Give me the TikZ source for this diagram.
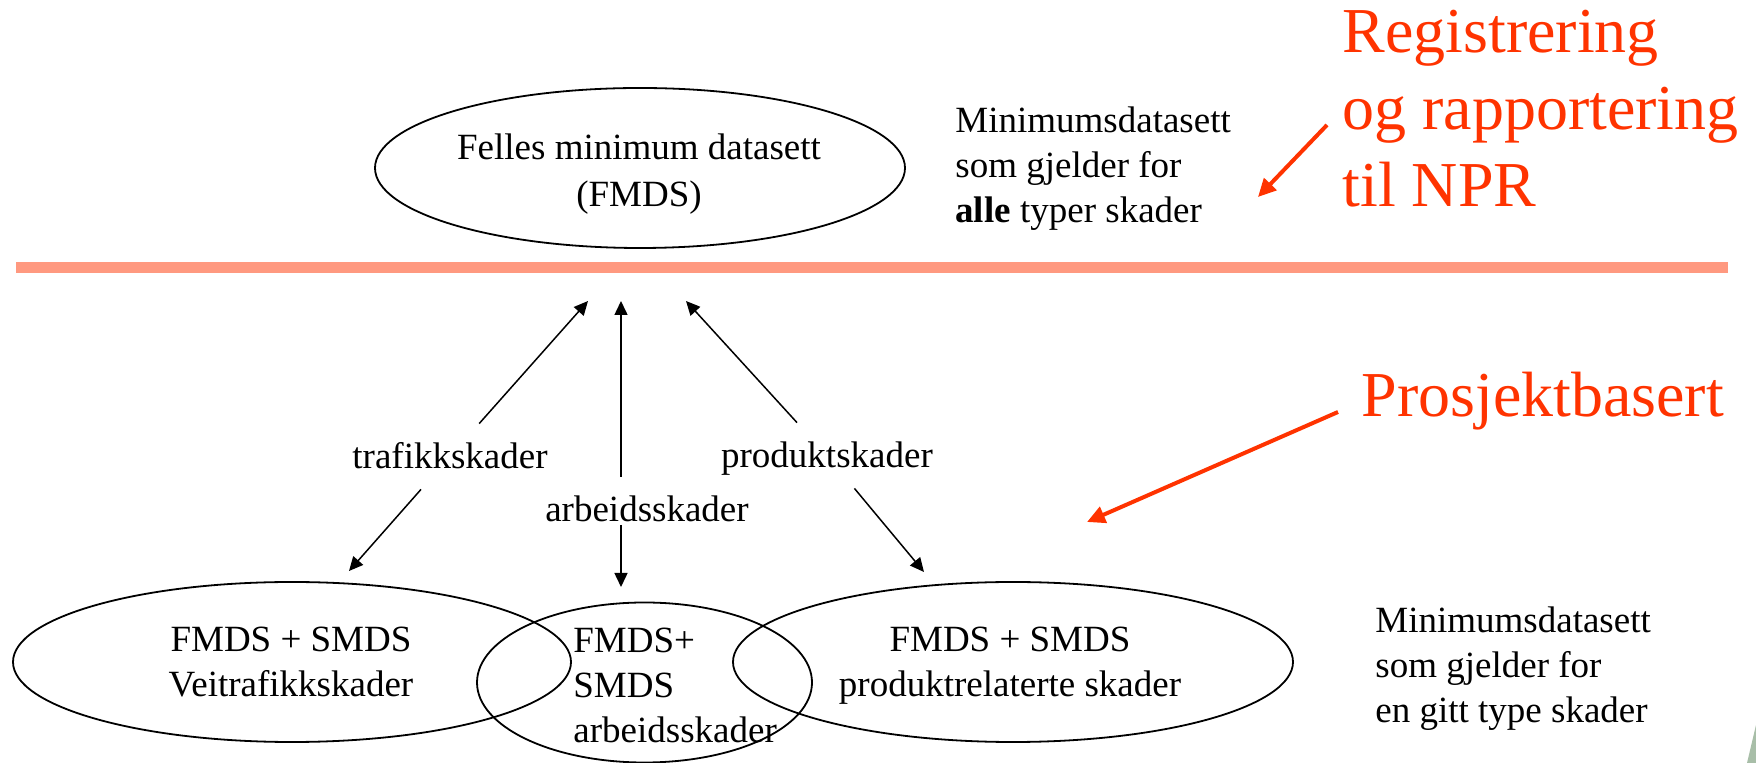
\documentclass[tikz,border=0pt]{standalone}
\usepackage{fontspec}
\setmainfont{Liberation Serif}
\usetikzlibrary{shapes.geometric,arrows.meta,calc}
\definecolor{npred}{RGB}{255,51,0}
\definecolor{salmonline}{RGB}{255,153,128}
\definecolor{sage}{RGB}{168,190,168}
\tikzset{
  oval/.style={draw, ellipse, line width=0.9pt, inner sep=0pt},
  body/.style={font=\fontsize{18.5pt}{22.5pt}\selectfont, inner sep=0pt},
  big/.style={font=\fontsize{32pt}{38.5pt}\selectfont, text=npred, inner sep=0pt},
  lbl/.style={font=\fontsize{18.5pt}{22.5pt}\selectfont, inner xsep=2pt, inner ysep=10pt,
              text height=12.5pt, text depth=0pt, anchor=base},
  arr/.style={line width=0.75pt, -{Triangle[length=7pt,width=6.5pt]}},
  redarr/.style={draw=npred, line width=2pt, -{Triangle[length=9pt,width=8.5pt]}},
}
\begin{document}
\begin{tikzpicture}[x=0.5pt,y=-0.5pt]
\useasboundingbox (0,0) rectangle (1756,763);
% background sliver
\fill[sage] (1756,725) -- (1747,763) -- (1756,763) -- cycle;
% separator line
\draw[salmonline, line width=5.5pt] (16,267.5) -- (1728,267.5);

% ellipses
\node[oval, minimum width=265pt, minimum height=80pt] (fmds) at (640,168) {};
\node[oval, minimum width=279pt, minimum height=80pt] (vei) at (292,662) {};
\node[oval, minimum width=167.5pt, minimum height=80pt] (arb) at (644.5,682.5) {};
\node[oval, minimum width=280pt, minimum height=80pt] (prod) at (1013,662) {};

% texts in ellipses (base anchor = baseline of last line)
\node[body, align=center, anchor=base, font=\fontsize{18.5pt}{23.5pt}\selectfont] (fmdsT) at (639,207) {Felles minimum datasett\\(FMDS)};
\node[body, align=center, anchor=base] (veiT) at (291,697) {FMDS + SMDS\\Veitrafikkskader};
\node[body, align=left, anchor=base west] (arbT) at (573,743) {FMDS+\\SMDS\\arbeidsskader};
\node[body, align=center, anchor=base] (prodT) at (1010,697) {FMDS + SMDS\\produktrelaterte skader};

% side notes
\node[body, align=left, anchor=base west] (noteTop) at (955,223) {Minimumsdatasett\\som gjelder for\\\textbf{alle} typer skader};
\node[body, align=left, anchor=base west] (noteBot) at (1375,723) {Minimumsdatasett\\som gjelder for\\en gitt type skader};

% red headings
\node[big, align=left, anchor=base west] (reg) at (1342,207) {Registrering\\og rapportering\\til NPR};
\node[big, anchor=base west] (pros) at (1361,417) {Prosjektbasert};

% red arrows
\coordinate (r1s) at (1327,125);
\coordinate (r1e) at (1258,197);
\coordinate (r2s) at (1338,412);
\coordinate (r2e) at (1087,522);
\draw[redarr] (r1s) -- (r1e);
\draw[redarr] (r2s) -- (r2e);

% connector labels
\node[lbl] (trafikk) at (450,469) {trafikkskader};
\node[lbl] (arbeids) at (647,522) {arbeidsskader};
\node[lbl] (produkt) at (827,468) {produktskader};

% arrow ends
\coordinate (tU) at (588,301);
\coordinate (aU) at (621,301);
\coordinate (pU) at (686,301);
\coordinate (tD) at (349,571);
\coordinate (aD) at (621,587);
\coordinate (pD) at (924,572);

\draw[arr] (trafikk) -- (tU);
\draw[arr] (trafikk) -- (tD);
\draw[arr] (arbeids.north -| aU) -- (aU);
\draw[arr] ($(arbeids.base -| aU)+(0,3)$) -- (aD);
\draw[arr] (produkt) -- (pU);
\draw[arr] (produkt) -- (pD);
\end{tikzpicture}
\end{document}
